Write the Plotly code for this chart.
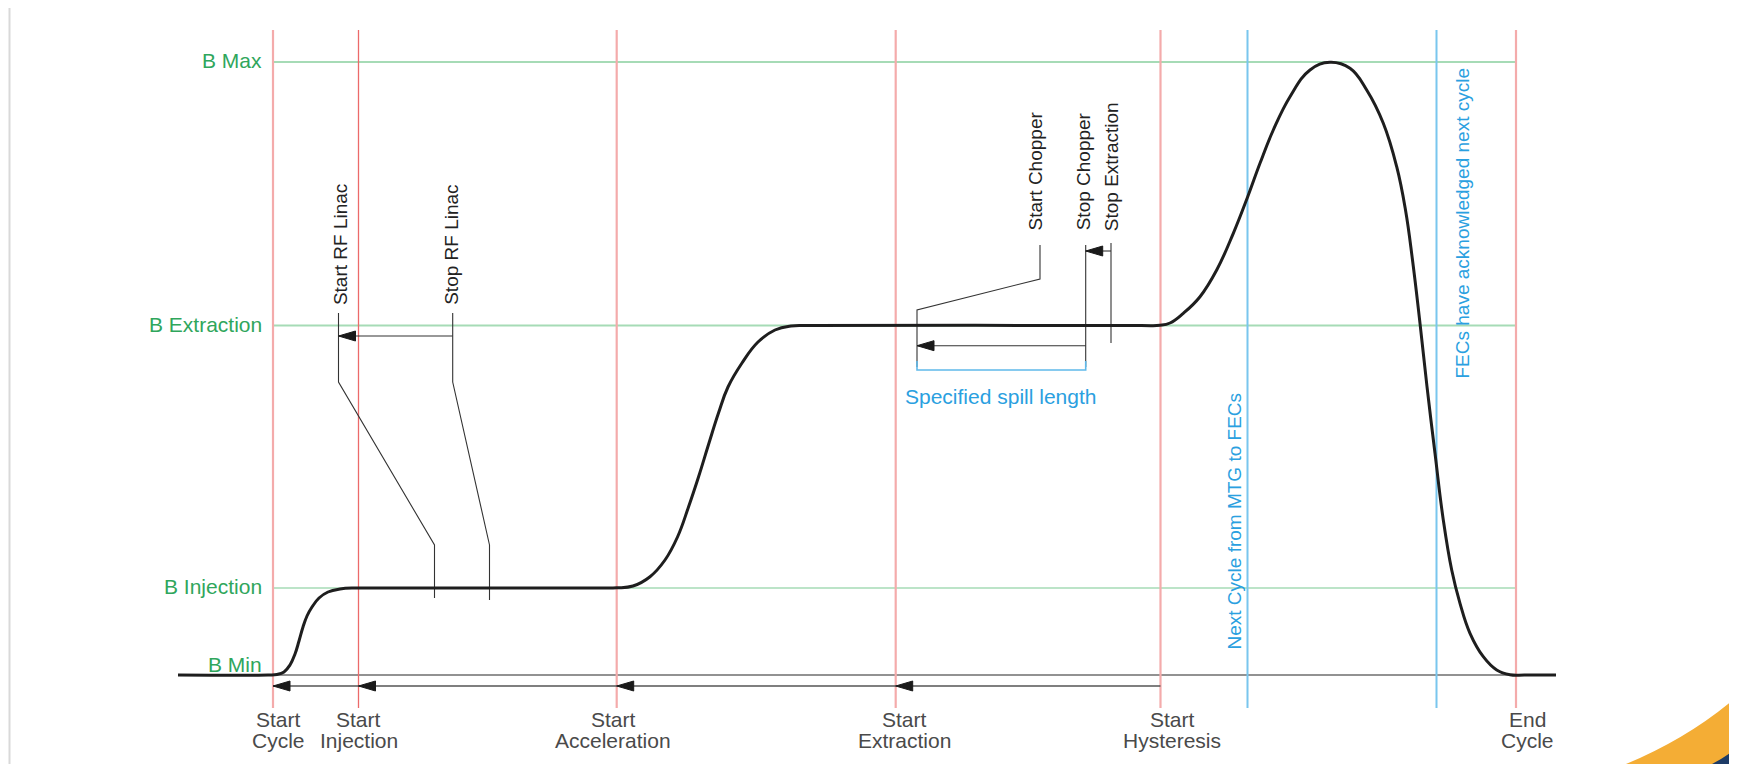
import plotly.graph_objects as go

W, H = 1737, 764
PAGE_OFFSET = 8          # default body margin of the html page
FONT = "Liberation Sans, Arial, sans-serif"

# ---------------- data (time axis / field axis) ----------------
event_time = [273, 358.5, 616.7, 895.7, 1160.5, 1516]
event_word1 = ["Start", "Start", "Start", "Start", "Start", "End"]
event_word2 = ["Cycle", "Injection", "Acceleration", "Extraction", "Hysteresis", "Cycle"]
event_label_t = [278, 358.5, 613, 904, 1172, 1527]

fec_time = [1247.5, 1436.5]
fec_text = ["Next Cycle from MTG to FECs", "FECs have acknowledged next cycle"]
fec_text_t = [1234, 1462]
fec_text_bottom = [652, 381]

level_names = ["B Max", "B Extraction", "B Injection", "B Min"]
level_value = [62, 325.5, 588, 675]
level_label_y = [60.5, 324, 586.5, 664]

# magnet cycle (knots)
curve_t = [178, 268, 277, 284, 290, 295, 299, 303, 307, 312, 319, 328, 340, 355, 370,
           600, 616.7, 633, 650, 665, 677.5, 688.5, 698.5, 709, 718.5, 728, 742, 758, 775, 791, 810,
           1140, 1160, 1170, 1183.3, 1200, 1216.7, 1233.3, 1247.7, 1260, 1273.3, 1290, 1310, 1330,
           1350, 1366.7, 1383.3, 1396.7, 1405.5, 1412.5, 1420, 1427, 1435, 1443.3, 1451.7, 1460,
           1470, 1483.3, 1496.7, 1510, 1525, 1556]
curve_b = [675, 675, 674.5, 672, 665, 654, 641, 627, 616, 607, 598, 592, 589, 588, 588,
           588, 587.8, 586, 576.7, 560, 537, 507, 477, 443, 413, 387, 363, 342, 330, 326, 325.5,
           325.5, 325.3, 323, 313.3, 296.7, 270, 233.3, 196.7, 163.3, 130, 96.7, 70, 62.3,
           68.3, 90, 123.3, 166.7, 210, 260, 323.3, 386.7, 453.3, 520, 570, 603.3,
           633.3, 656.7, 670, 674.7, 675, 675]

# RF linac annotations
rf_names = ["Start RF Linac", "Stop RF Linac"]
rf_text_t = [340.6, 450.8]
rf_text_bottom = [307, 307]
rf_leader_t = [[338.5, 338.5, 434.5, 434.5], [452.7, 452.7, 489.5, 489.5]]
rf_leader_b = [[313, 382, 545, 598], [313, 382, 545, 600]]
rf_arrow_b = 336

# chopper / extraction annotations
chop_names = ["Start Chopper", "Stop Chopper", "Stop Extraction"]
chop_text_t = [1035, 1083.3, 1111.7]
chop_text_bottom = [233, 232, 233]
chop_leader_t = [[1040, 1040, 917, 917], [1085.7, 1085.7], [1111, 1111]]
chop_leader_b = [[245, 279, 310, 367], [245, 367], [243, 343]]
chop_arrow_b = 251
spill_arrow_b = 345.7
spill_bracket_b = 370

timeline_b = 686
arrow_len, arrow_half = 17, 5

# ---------------- figure ----------------
fig = go.Figure()

def add_line(xs, ys, color, width):
    fig.add_trace(go.Scatter(x=xs, y=ys, mode="lines", hoverinfo="skip",
                             line=dict(color=color, width=width), showlegend=False))

# level lines (B Min is the baseline)
for v, name in zip(level_value, level_names):
    if name == "B Min":
        add_line([curve_t[0], curve_t[-1]], [v, v], "#6e6e6e", 1.5)
    else:
        add_line([event_time[0], event_time[-1]], [v, v], "#a6dbb6", 2 if name != "B Injection" else 1.6)

# red event lines
for i, t in enumerate(event_time):
    if i == 1:
        add_line([t, t], [30, 708], "#ec6a6a", 1.3)
    else:
        add_line([t, t], [30, 708], "#f4abab", 2.2)

# blue FEC lines
for t in fec_time:
    add_line([t, t], [30, 708], "#79c6ee", 2)

# timeline arrow line
add_line([event_time[4], event_time[0]], [timeline_b, timeline_b], "#555555", 1.5)

# leaders
lx, ly = [], []
for xs, ys in zip(rf_leader_t + chop_leader_t, rf_leader_b + chop_leader_b):
    lx += xs + [None]
    ly += ys + [None]
lx += [rf_leader_t[1][0], rf_leader_t[0][0], None]
ly += [rf_arrow_b, rf_arrow_b, None]
lx += [chop_leader_t[2][0], chop_leader_t[1][0], None]
ly += [chop_arrow_b, chop_arrow_b, None]
lx += [chop_leader_t[1][0], chop_leader_t[0][-1], None]
ly += [spill_arrow_b, spill_arrow_b, None]
add_line(lx, ly, "#333333", 1.1)

# spill bracket (blue)
sb_l, sb_r = chop_leader_t[0][-1], chop_leader_t[1][0]
add_line([sb_l, sb_l, sb_r, sb_r], [spill_bracket_b - 9, spill_bracket_b, spill_bracket_b, spill_bracket_b - 9],
         "#5fb9ea", 1.6)

# magnet cycle curve
fig.add_trace(go.Scatter(x=curve_t, y=curve_b, mode="lines", hoverinfo="skip", showlegend=False,
                         line=dict(color="#1e1e1e", width=3, shape="spline", smoothing=1.2)))

# arrowheads (left-pointing)
tips = [(t, timeline_b) for t in event_time[:4]]
tips += [(rf_leader_t[0][0], rf_arrow_b), (chop_leader_t[1][0], chop_arrow_b),
         (chop_leader_t[0][-1], spill_arrow_b)]
ax, ay = [], []
for (tx, ty) in tips:
    ax += [tx, tx + arrow_len, tx + arrow_len, tx, None]
    ay += [ty, ty - arrow_half, ty + arrow_half, ty, None]
fig.add_trace(go.Scatter(x=ax, y=ay, mode="lines", fill="toself", fillcolor="#1a1a1a",
                         line=dict(color="#1a1a1a", width=1), hoverinfo="skip", showlegend=False))

# ---------------- texts ----------------
ann = []
for name, y in zip(level_names, level_label_y):
    ann.append(dict(x=263.5, y=y, text=name, xanchor="right", yanchor="middle", showarrow=False,
                    font=dict(family=FONT, size=21, color="#2fa65c")))
for w1, w2, t in zip(event_word1, event_word2, event_label_t):
    ann.append(dict(x=t, y=719.5, text=w1, xanchor="center", yanchor="middle", showarrow=False,
                    font=dict(family=FONT, size=21, color="#4a4a4a")))
    ann.append(dict(x=t, y=740.5, text=w2, xanchor="center", yanchor="middle", showarrow=False,
                    font=dict(family=FONT, size=21, color="#4a4a4a")))
for txt, t, b in zip(rf_names, rf_text_t, rf_text_bottom):
    ann.append(dict(x=t, y=b, text=txt, textangle=-90, xanchor="center", yanchor="bottom",
                    showarrow=False, font=dict(family=FONT, size=19, color="#222222")))
for txt, t, b in zip(chop_names, chop_text_t, chop_text_bottom):
    ann.append(dict(x=t, y=b, text=txt, textangle=-90, xanchor="center", yanchor="bottom",
                    showarrow=False, font=dict(family=FONT, size=19, color="#222222")))
for txt, t, b in zip(fec_text, fec_text_t, fec_text_bottom):
    ann.append(dict(x=t, y=b, text=txt, textangle=-90, xanchor="center", yanchor="bottom",
                    showarrow=False, font=dict(family=FONT, size=19, color="#2aa0e0")))
ann.append(dict(x=(sb_l + sb_r) / 2 - 1, y=396, text="Specified spill length",
                xanchor="center", yanchor="middle", showarrow=False,
                font=dict(family=FONT, size=21, color="#2aa0e0")))

# ---------------- decoration: frame + corner swoosh ----------------
shapes = [
    dict(type="rect", xref="x", yref="y", x0=9.5, y0=7, x1=1734, y1=800,
         line=dict(color="#d9d9d9", width=2), layer="below"),
    dict(type="path", xref="x", yref="y", path="M 1626,764 Q 1688,738 1734,699 L 1734,764 Z",
         fillcolor="#f4ad35", line=dict(width=0)),
    dict(type="path", xref="x", yref="y", path="M 1712,764 Q 1724,758 1734,750 L 1734,764 Z",
         fillcolor="#1d3b66", line=dict(width=0)),
]

fig.update_layout(
    width=W - PAGE_OFFSET, height=H - PAGE_OFFSET, margin=dict(l=0, r=0, t=0, b=0),
    paper_bgcolor="white", plot_bgcolor="white",
    xaxis=dict(range=[PAGE_OFFSET, W], visible=False, fixedrange=True),
    yaxis=dict(range=[H, PAGE_OFFSET], visible=False, fixedrange=True),
    annotations=ann, shapes=shapes, showlegend=False,
)

fig.write_html("out.html", config={"displayModeBar": False})
